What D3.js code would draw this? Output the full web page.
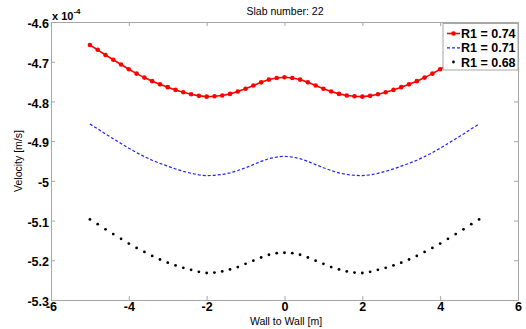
<!DOCTYPE html>
<html><head><meta charset="utf-8">
<script src="https://cdn.jsdelivr.net/npm/d3@7"></script>
<style>body{margin:0;background:#fff}svg{display:block}text{font-family:"Liberation Sans",Arial,sans-serif}
.tick text{font-weight:bold !important;font-size:12.5px !important;fill:#000 !important}</style>
</head><body><svg id="c" width="526" height="329"></svg>
<script>
const xPos = [-5,-4.8,-4.6,-4.4,-4.2,-4,-3.8,-3.6,-3.4,-3.2,-3,-2.8,-2.6,-2.4,-2.2,-2,-1.8,-1.6,-1.4,-1.2,-1,-0.8,-0.6,-0.4,-0.2,0,
  0.2,0.4,0.6,0.8,1,1.2,1.4,1.6,1.8,2,2.2,2.4,2.6,2.8,3,3.2,3.4,3.6,3.8,4,4.2,4.4,4.6,4.8,5];
const red = [-4.658,-4.670,-4.683,-4.695,-4.707,-4.719,-4.730,-4.740,-4.749,-4.757,-4.764,-4.771,-4.777,-4.782,-4.786,-4.788,-4.787,-4.785,-4.781,-4.775,-4.768,-4.760,-4.752,-4.745,-4.741,-4.739,
  -4.741,-4.745,-4.752,-4.760,-4.768,-4.775,-4.781,-4.785,-4.787,-4.788,-4.786,-4.782,-4.777,-4.771,-4.764,-4.757,-4.749,-4.740,-4.730,-4.719,-4.707,-4.695,-4.683,-4.670,-4.658];
const blue = [-4.857,-4.869,-4.882,-4.894,-4.906,-4.918,-4.929,-4.939,-4.948,-4.956,-4.963,-4.970,-4.976,-4.981,-4.985,-4.987,-4.986,-4.984,-4.980,-4.974,-4.967,-4.959,-4.951,-4.944,-4.940,-4.938,
  -4.940,-4.944,-4.951,-4.959,-4.967,-4.974,-4.980,-4.984,-4.986,-4.987,-4.985,-4.981,-4.976,-4.970,-4.963,-4.956,-4.948,-4.939,-4.929,-4.918,-4.906,-4.894,-4.882,-4.869,-4.857];
const black = [-5.097,-5.109,-5.122,-5.134,-5.146,-5.158,-5.169,-5.179,-5.189,-5.198,-5.206,-5.213,-5.219,-5.224,-5.229,-5.232,-5.231,-5.228,-5.223,-5.217,-5.209,-5.201,-5.193,-5.186,-5.182,-5.181,
  -5.182,-5.186,-5.193,-5.201,-5.209,-5.217,-5.223,-5.228,-5.231,-5.232,-5.229,-5.224,-5.219,-5.213,-5.206,-5.198,-5.189,-5.179,-5.169,-5.158,-5.146,-5.134,-5.122,-5.109,-5.097];
const seriesNames = ["R1 = 0.74","R1 = 0.71","R1 = 0.68"];
const xTicks = [-6,-4,-2,0,2,4,6];
const xTickLabels = ["-6","-4","-2","0","2","4","6"];
const yTicks = [-4.6,-4.7,-4.8,-4.9,-5,-5.1,-5.2,-5.3];
const yTickLabels = ["-4.6","-4.7","-4.8","-4.9","-5","-5.1","-5.2","-5.3"];

const svg = d3.select("#c");
const L=51, R=518, T=22, B=300;
const x = d3.scaleLinear().domain([-6,6]).range([L,R]);
const y = d3.scaleLinear().domain([-5.3,-4.6]).range([B,T]);
const axCol = "#a6a6a6";

const gx = svg.append("g").attr("transform",`translate(0,${B})`)
  .call(d3.axisBottom(x).tickValues(xTicks).tickFormat((d,i)=>xTickLabels[i]).tickSizeInner(-4).tickSizeOuter(0).tickPadding(2));
const gy = svg.append("g").attr("transform",`translate(${L},0)`)
  .call(d3.axisLeft(y).tickValues(yTicks).tickFormat((d,i)=>yTickLabels[i]).tickSizeInner(-4).tickSizeOuter(0).tickPadding(2));
const gxt = svg.append("g").attr("transform",`translate(0,${T})`)
  .call(d3.axisTop(x).tickValues(xTicks).tickFormat("").tickSizeInner(-4).tickSizeOuter(0));
const gyr = svg.append("g").attr("transform",`translate(${R},0)`)
  .call(d3.axisRight(y).tickValues(yTicks).tickFormat("").tickSizeInner(-4).tickSizeOuter(0));
[gx,gy,gxt,gyr].forEach(g=>{
  g.attr("font-family","'Liberation Sans',Arial,sans-serif").attr("font-size","12.5px").attr("font-weight","bold");
  g.select(".domain").attr("stroke",axCol);
  g.selectAll(".tick line").attr("stroke",axCol);
});
gy.selectAll(".tick text").attr("dy","0.45em");
gx.selectAll(".tick text").attr("dy","0.75em");

const ex = svg.append("text").attr("x",L+1).attr("y",T-2).attr("font-size","11px").attr("font-weight","bold");
ex.append("tspan").text("x 10");
ex.append("tspan").attr("dy",-6).attr("font-size","8px").text("-4");

svg.append("text").attr("x",285).attr("y",15).attr("text-anchor","middle").attr("font-size","10.5px").text("Slab number: 22");
svg.append("text").attr("x",286).attr("y",325).attr("text-anchor","middle").attr("font-size","10.5px").text("Wall to Wall [m]");
svg.append("text").attr("transform","translate(22,161) rotate(-90)").attr("text-anchor","middle").attr("font-size","10.5px").text("Velocity [m/s]");

const line = d3.line().x((d,i)=>x(xPos[i])).y(d=>y(d));
svg.append("path").datum(red).attr("d",line).attr("fill","none").attr("stroke","#ff0000").attr("stroke-width",1.6);
svg.selectAll(".rm").data(red).join("circle").attr("cx",(d,i)=>x(xPos[i])).attr("cy",d=>y(d)).attr("r",2.3).attr("fill","#ff0000");
svg.append("path").datum(blue).attr("d",line).attr("fill","none").attr("stroke","#2020ff").attr("stroke-width",1.2).attr("stroke-dasharray","3,2");
svg.selectAll(".bm").data(black).join("circle").attr("cx",(d,i)=>x(xPos[i])).attr("cy",d=>y(d)).attr("r",1.4).attr("fill","#000");

const lg = svg.append("g");
lg.append("rect").attr("x",443).attr("y",23.5).attr("width",75).attr("height",46.5).attr("fill","#fff").attr("stroke",axCol).attr("stroke-width",1);
const ly = [33.5,47.8,62];
seriesNames.forEach((n,i)=>{
  lg.append("text").attr("x",461).attr("y",ly[i]+4.5).attr("font-size","12.5px").attr("font-weight","bold").text(n);
});
lg.append("line").attr("x1",447).attr("x2",460).attr("y1",ly[0]).attr("y2",ly[0]).attr("stroke","#ff0000").attr("stroke-width",1.6);
lg.append("circle").attr("cx",453.5).attr("cy",ly[0]).attr("r",2.3).attr("fill","#ff0000");
lg.append("line").attr("x1",447).attr("x2",460).attr("y1",ly[1]).attr("y2",ly[1]).attr("stroke","#2020ff").attr("stroke-width",1.2).attr("stroke-dasharray","3,2");
lg.append("circle").attr("cx",453.5).attr("cy",ly[2]).attr("r",1.4).attr("fill","#000");
</script></body></html>
